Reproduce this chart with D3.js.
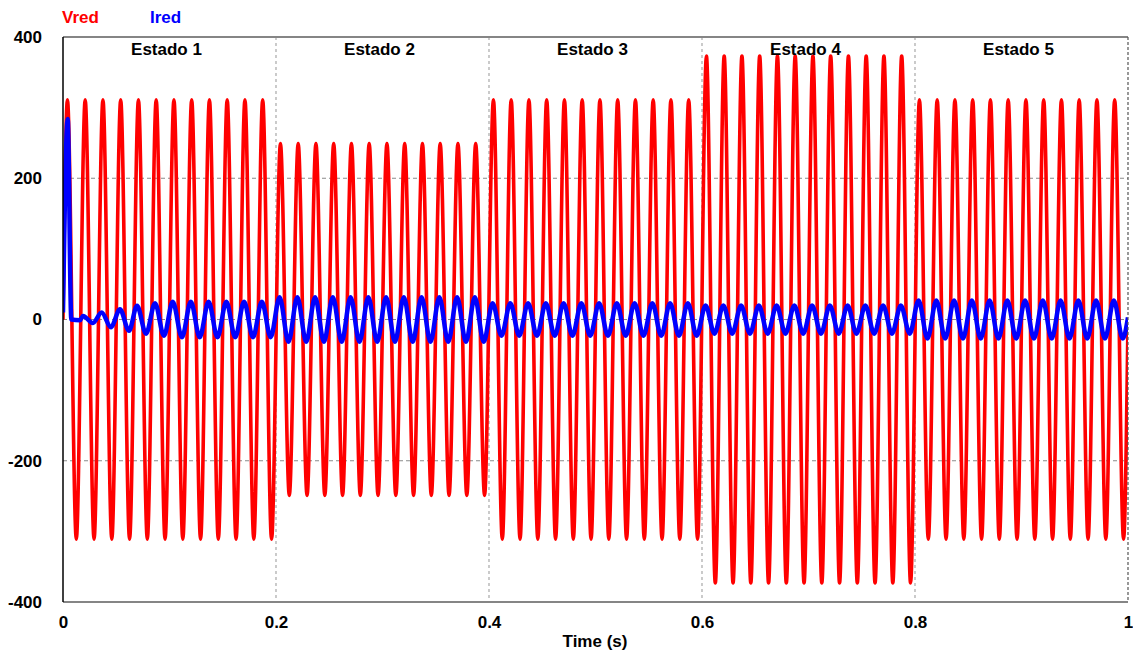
<!DOCTYPE html>
<html>
<head>
<meta charset="utf-8">
<script src="https://cdn.jsdelivr.net/npm/d3@7"></script>
<style>
	body { margin: 0; background: #fff; }
	text { font-family: Arial, "Liberation Sans", sans-serif; font-weight: bold; }
</style>
</head>
<body>
<div id="root"></div>
<script>
// states of the test
const stateNames = ['Estado 1', 'Estado 2', 'Estado 3', 'Estado 4', 'Estado 5']
const stateStart = [0, 0.2, 0.4, 0.6, 0.8]
const endTime = 1.0
const gridFreq = 60 // Hz

// peak values read per state
const vredPeak = [311, 249, 311, 373, 311]
const iredPeak = [25, 31.5, 23, 20, 27]

// Ired start-up transient (time s, value)
const iredStartT = [0, 0.0044, 0.0078, 0.016, 0.0188, 0.028, 0.0363, 0.045, 0.0535, 0.062, 0.0695, 0.078, 0.0864, 0.0948, 0.103, 0.1117]
const iredStartV = [10, 284, 0, -1, 5, -5, 10, -11, 14.5, -16, 19.5, -20, 23, -23, 25, -25]
const iredLead = 0.0008 // s, ired peaks a bit before vred
const iredEndV = 3

const xTicks = [0, 0.2, 0.4, 0.6, 0.8, 1]
const yTicks = [-400, -200, 0, 200, 400]
const yGrid = [-200, 0, 200]

const C = {
	width: 1133,
	height: 656,
	left: 63,
	right: 1128,
	top: 37,
	bottom: 602,
	red: '#ff0000',
	blue: '#0000ff',
	font: 17,
}

const svg = d3.select('#root').append('svg')
	.attr('width', C.width)
	.attr('height', C.height)

const x = d3.scaleLinear()
	.domain([0, 1])
	.range([C.left, C.right])

const y = d3.scaleLinear()
	.domain([-400, 400])
	.range([C.bottom, C.top])

const stateOf = t => Math.max(0, d3.bisectRight(stateStart, t) - 1)
const halfPeriod = 1 / gridFreq / 2

//build the extremes of vred (peak, trough, peak ...)
const vred = [[0, 0]]
for (let n = 0; ; n++) {
	const t = halfPeriod / 2 + n * halfPeriod
	if (t > endTime) break
	const sign = n % 2 === 0 ? 1 : -1
	vred.push([t, sign * vredPeak[stateOf(t)]])
}
vred.push([endTime, 0])

//ired: transient, then steady extremes
const ired = iredStartT.map((t, i) => [t, iredStartV[i]])
for (let n = 0; ; n++) {
	const t = halfPeriod / 2 - iredLead + n * halfPeriod
	if (t > endTime) break
	if (t <= iredStartT[iredStartT.length - 1] + 0.001) continue
	const sign = n % 2 === 0 ? 1 : -1
	ired.push([t, sign * iredPeak[stateOf(t)]])
}
ired.push([endTime, iredEndV])

/* -- grid -- */
const grid = svg.append('g').attr('class', 'grid')

grid.selectAll('.vgrid')
	.data(xTicks.filter(d => d > 0 && d < 1))
	.enter()
	.append('line')
	.attr('x1', d => x(d))
	.attr('x2', d => x(d))
	.attr('y1', C.top)
	.attr('y2', C.bottom)
	.attr('stroke', '#a8a8a8')
	.attr('stroke-width', 1.2)
	.attr('stroke-dasharray', '3,3')

grid.selectAll('.hgrid')
	.data(yGrid)
	.enter()
	.append('line')
	.attr('x1', C.left)
	.attr('x2', C.right)
	.attr('y1', d => y(d))
	.attr('y2', d => y(d))
	.attr('stroke', '#8a8a8a')
	.attr('stroke-width', 1)
	.attr('stroke-dasharray', '4,3')

/* -- curves -- */
svg.append('clipPath')
	.attr('id', 'plotClip')
	.append('rect')
	.attr('x', C.left)
	.attr('y', C.top)
	.attr('width', C.right - C.left)
	.attr('height', C.bottom - C.top)

const line = d3.line()
	.x(d => x(d[0]))
	.y(d => y(d[1]))
	.curve(d3.curveMonotoneX)

const curves = svg.append('g').attr('clip-path', 'url(#plotClip)')

curves.append('path')
	.datum(vred)
	.attr('d', line)
	.attr('fill', 'none')
	.attr('stroke', C.red)
	.attr('stroke-width', 3.6)

curves.append('path')
	.datum(ired)
	.attr('d', line)
	.attr('fill', 'none')
	.attr('stroke', C.blue)
	.attr('stroke-width', 4.5)

/* -- frame -- */
svg.append('line')
	.attr('x1', C.left).attr('x2', C.right)
	.attr('y1', C.top).attr('y2', C.top)
	.attr('stroke', '#858585').attr('stroke-width', 2)

svg.append('line')
	.attr('x1', C.left).attr('x2', C.right)
	.attr('y1', C.bottom).attr('y2', C.bottom)
	.attr('stroke', '#858585').attr('stroke-width', 2)

svg.append('line')
	.attr('x1', C.left).attr('x2', C.left)
	.attr('y1', C.top).attr('y2', C.bottom)
	.attr('stroke', '#000').attr('stroke-width', 1.5)

svg.append('line')
	.attr('x1', C.right).attr('x2', C.right)
	.attr('y1', C.top).attr('y2', C.bottom)
	.attr('stroke', '#555').attr('stroke-width', 1.2)
	.attr('stroke-dasharray', '3,2')

/* -- axes -- */
const axisX = d3.axisBottom(x)
	.tickValues(xTicks)
	.tickFormat(d => String(d))
	.tickSize(0)
	.tickPadding(14)

const axisY = d3.axisLeft(y)
	.tickValues(yTicks)
	.tickFormat(d => String(d))
	.tickSize(0)
	.tickPadding(21)

const gx = svg.append('g')
	.attr('transform', `translate(0,${C.bottom})`)
	.call(axisX)

const gy = svg.append('g')
	.attr('transform', `translate(${C.left},0)`)
	.call(axisY)

gx.select('.domain').remove()
gy.select('.domain').remove()

svg.selectAll('.tick text')
	.attr('font-size', C.font)
	.attr('font-family', 'Arial, "Liberation Sans", sans-serif')
	.attr('font-weight', 'bold')
	.attr('fill', '#000')

// state labels
svg.selectAll('.state')
	.data(stateNames)
	.enter()
	.append('text')
	.attr('class', 'state')
	.attr('x', (d, i) => x((stateStart[i] + (stateStart[i + 1] || endTime)) / 2) - 3)
	.attr('y', 55)
	.attr('text-anchor', 'middle')
	.attr('font-size', C.font)
	.text(d => d)

// axis title
svg.append('text')
	.attr('x', 595)
	.attr('y', 647)
	.attr('text-anchor', 'middle')
	.attr('font-size', C.font)
	.text('Time (s)')

// legend
svg.append('text')
	.attr('x', 62)
	.attr('y', 23)
	.attr('font-size', C.font)
	.attr('fill', C.red)
	.text('Vred')

svg.append('text')
	.attr('x', 150)
	.attr('y', 23)
	.attr('font-size', C.font)
	.attr('fill', C.blue)
	.text('Ired')
</script>
</body>
</html>
